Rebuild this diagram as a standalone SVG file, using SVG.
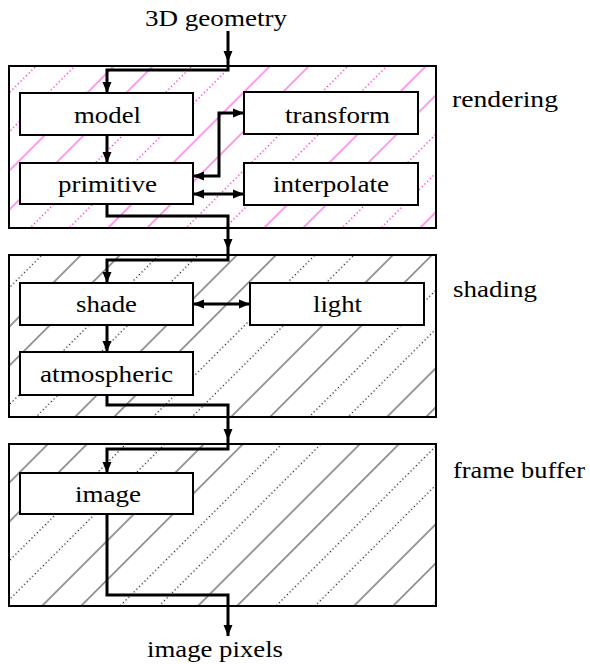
<svg xmlns="http://www.w3.org/2000/svg" width="590" height="664" viewBox="0 0 590 664">
  <defs>
    <style>
      .stage { stroke: #000; stroke-width: 2; }
      .box { fill: #fff; stroke: #000; stroke-width: 2; }
      .conn { fill: none; stroke: #000; stroke-width: 3; stroke-linejoin: miter; }
      .hs { stroke: #000; stroke-width: 0.8; }
      .hd { stroke: #000; stroke-width: 1.1; stroke-dasharray: 1.2 2.6; }
      .ps { stroke: #ff22cc; stroke-width: 0.9; }
      .pd { stroke: #ff00bb; stroke-width: 1.2; stroke-dasharray: 1.2 2.6; }
    </style>
    <!-- diagonal hatching: two solid lines then two dotted lines per tile -->
    <pattern id="hatch-grey" patternUnits="userSpaceOnUse" width="110.3" height="7.6" patternTransform="rotate(45)">
      <rect width="110.3" height="7.6" fill="#fff"/>
      <line class="hs" x1="17" y1="0" x2="17" y2="7.6"/>
      <line class="hs" x1="44.6" y1="0" x2="44.6" y2="7.6"/>
      <line class="hd" x1="72.2" y1="0" x2="72.2" y2="7.6"/>
      <line class="hd" x1="99.7" y1="0" x2="99.7" y2="7.6"/>
    </pattern>
    <pattern id="hatch-pink" patternUnits="userSpaceOnUse" width="110.3" height="7.6" patternTransform="rotate(45)">
      <rect width="110.3" height="7.6" fill="#fff"/>
      <line class="ps" x1="17" y1="0" x2="17" y2="7.6"/>
      <line class="ps" x1="44.6" y1="0" x2="44.6" y2="7.6"/>
      <line class="pd" x1="72.2" y1="0" x2="72.2" y2="7.6"/>
      <line class="pd" x1="99.7" y1="0" x2="99.7" y2="7.6"/>
    </pattern>
    <marker id="arrow" markerUnits="userSpaceOnUse" markerWidth="14" markerHeight="12" viewBox="-12 -6 14 12" refX="0" refY="0" orient="auto-start-reverse">
      <path d="M0,0 L-11,-4.5 L-11,4.5 Z" fill="#000"/>
    </marker>
  </defs>

  <g font-family="'Liberation Serif', 'Times New Roman', Times, serif" font-size="24" fill="#000">
  <!-- pipeline stages -->
  <g id="stage-rendering">
    <rect class="stage" x="9" y="66" width="427" height="162" fill="url(#hatch-pink)"/>
    <text x="452" y="107" textLength="106" lengthAdjust="spacingAndGlyphs">rendering</text>
  </g>
  <g id="stage-shading">
    <rect class="stage" x="9" y="255" width="427" height="162" fill="url(#hatch-grey)"/>
    <text x="453" y="297" textLength="84" lengthAdjust="spacingAndGlyphs">shading</text>
  </g>
  <g id="stage-framebuffer">
    <rect class="stage" x="9" y="444" width="427" height="162" fill="url(#hatch-grey)"/>
    <text x="453" y="478" textLength="132" lengthAdjust="spacingAndGlyphs">frame buffer</text>
  </g>

  <!-- connectors -->
  <g id="connectors">
    <path class="conn" d="M228,31 V62" marker-end="url(#arrow)"/>
    <path class="conn" d="M228,62 V70 H107 V93" marker-end="url(#arrow)"/>
    <path class="conn" d="M107,135 V163" marker-end="url(#arrow)"/>
    <path class="conn" d="M193,176 H219 V113 H244" marker-start="url(#arrow)" marker-end="url(#arrow)"/>
    <path class="conn" d="M193,194 H244" marker-start="url(#arrow)" marker-end="url(#arrow)"/>
    <path class="conn" d="M107,204 V216 H228 V250" marker-end="url(#arrow)"/>
    <path class="conn" d="M228,250 V260 H107 V283" marker-end="url(#arrow)"/>
    <path class="conn" d="M193,304 H250" marker-start="url(#arrow)" marker-end="url(#arrow)"/>
    <path class="conn" d="M107,325 V352" marker-end="url(#arrow)"/>
    <path class="conn" d="M107,395 V405 H228 V440" marker-end="url(#arrow)"/>
    <path class="conn" d="M228,440 V449 H107 V473" marker-end="url(#arrow)"/>
    <path class="conn" d="M107,514 V595 H228 V636" marker-end="url(#arrow)"/>
  </g>

  <!-- source and sink labels -->
  <g id="input">
    <text x="216" y="26" text-anchor="middle" textLength="142" lengthAdjust="spacingAndGlyphs">3D geometry</text>
  </g>
  <g id="output">
    <text x="215" y="657" text-anchor="middle" textLength="136" lengthAdjust="spacingAndGlyphs">image pixels</text>
  </g>

  <!-- processing nodes -->
  <g id="model">
    <rect class="box" x="20" y="93" width="173" height="42"/>
    <text x="107.5" y="123" text-anchor="middle" textLength="67" lengthAdjust="spacingAndGlyphs">model</text>
  </g>
  <g id="primitive">
    <rect class="box" x="20" y="163" width="173" height="41"/>
    <text x="107.5" y="192" text-anchor="middle" textLength="99" lengthAdjust="spacingAndGlyphs">primitive</text>
  </g>
  <g id="transform">
    <rect class="box" x="244" y="92" width="174" height="42"/>
    <text x="337.5" y="123" text-anchor="middle" textLength="105" lengthAdjust="spacingAndGlyphs">transform</text>
  </g>
  <g id="interpolate">
    <rect class="box" x="244" y="163" width="174" height="42"/>
    <text x="331" y="192" text-anchor="middle" textLength="116" lengthAdjust="spacingAndGlyphs">interpolate</text>
  </g>
  <g id="shade">
    <rect class="box" x="20" y="283" width="173" height="42"/>
    <text x="106.5" y="312" text-anchor="middle" textLength="61" lengthAdjust="spacingAndGlyphs">shade</text>
  </g>
  <g id="light">
    <rect class="box" x="250" y="283" width="174" height="42"/>
    <text x="337.5" y="312" text-anchor="middle" textLength="49" lengthAdjust="spacingAndGlyphs">light</text>
  </g>
  <g id="atmospheric">
    <rect class="box" x="20" y="352" width="173" height="43"/>
    <text x="106.5" y="382" text-anchor="middle" textLength="133" lengthAdjust="spacingAndGlyphs">atmospheric</text>
  </g>
  <g id="image">
    <rect class="box" x="20" y="473" width="173" height="41"/>
    <text x="108" y="502" text-anchor="middle" textLength="66" lengthAdjust="spacingAndGlyphs">image</text>
  </g>
  </g>
</svg>
